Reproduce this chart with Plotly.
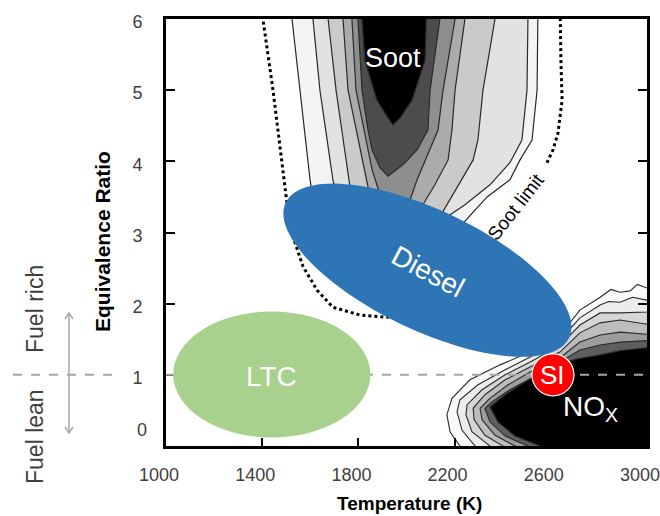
import numpy as np
import plotly.graph_objects as go

FONT = "Liberation Sans, Arial, Helvetica, sans-serif"
W, H = 660, 516
MARGIN = dict(l=166, r=13, t=19, b=70)

# ---------------- axes ----------------
X_RANGE = [1000, 3000]
Y_RANGE = [0, 6]
X_TICKS = [1000, 1400, 1800, 2200, 2600, 3000]
Y_TICKS = [1, 2, 3, 4, 5, 6]

# ---------------- soot contours (T [K], equivalence ratio), outer -> inner ----------------
soot_A_T = [1524, 1524, 1557, 1599, 1632, 1682, 1765, 1869, 1994, 2098, 2181, 2235, 2335, 2430, 2472, 2522, 2543, 2547, 2547]
soot_A_phi = [6.3, 6.0, 5.0, 3.74, 3.03, 2.61, 2.26, 2.11, 2.12, 2.33, 2.75, 3.13, 3.50, 3.74, 4.02, 4.30, 5.0, 6.0, 6.3]
soot_B_T = [1611, 1611, 1640, 1694, 1744, 1827, 1952, 2077, 2160, 2243, 2347, 2430, 2480, 2501, 2505, 2505]
soot_B_phi = [6.3, 6.0, 5.0, 3.74, 3.03, 2.61, 2.47, 2.68, 3.20, 3.39, 3.67, 3.98, 4.30, 5.0, 6.0, 6.3]
soot_C_T = [1674, 1674, 1707, 1765, 1807, 1890, 1994, 2077, 2139, 2210, 2277, 2297, 2318, 2368, 2368]
soot_C_phi = [6.3, 6.0, 5.0, 3.64, 3.18, 2.89, 2.89, 3.06, 3.22, 3.64, 4.02, 4.30, 5.0, 6.0, 6.3]
soot_D_T = [1736, 1736, 1757, 1840, 1881, 1952, 2015, 2056, 2118, 2173, 2189, 2202, 2243, 2243]
soot_D_phi = [6.3, 6.0, 5.0, 3.64, 3.32, 3.15, 3.20, 3.32, 3.67, 4.02, 4.44, 5.0, 6.0, 6.3]
soot_E_T = [1773, 1773, 1790, 1857, 1890, 1931, 1973, 2015, 2044, 2098, 2131, 2152, 2202, 2202]
soot_E_phi = [6.3, 6.0, 5.0, 3.88, 3.53, 3.34, 3.29, 3.46, 3.74, 4.16, 4.44, 5.0, 6.0, 6.3]
soot_F_T = [1798, 1798, 1815, 1840, 1857, 1890, 1923, 1985, 2044, 2089, 2098, 2139, 2139]
soot_F_phi = [6.3, 6.0, 5.0, 4.44, 4.16, 3.91, 3.79, 3.95, 4.16, 4.44, 5.0, 6.0, 6.3]
soot_G_T = [1815, 1815, 1827, 1877, 1923, 1944, 1973, 2023, 2077, 2085, 2085]
soot_G_phi = [6.3, 6.0, 5.42, 4.86, 4.61, 4.51, 4.61, 4.86, 5.42, 6.0, 6.3]

# soot limit (dotted), two visible pieces
sootlim_left_T = [1403, 1403, 1445, 1486, 1503, 1528, 1570, 1628, 1694, 1807, 1919, 2056, 2202, 2306]
sootlim_left_phi = [6.3, 6.0, 5.0, 3.88, 3.41, 2.94, 2.52, 2.19, 1.95, 1.84, 1.81, 1.88, 2.12, 2.40]
sootlim_right_T = [2584, 2609, 2630, 2647, 2642, 2638, 2638]
sootlim_right_phi = [3.98, 4.16, 4.40, 4.86, 5.42, 6.0, 6.3]

# ---------------- NOx contours, outer -> inner ----------------
nox_A_T = [3220, 3000, 2960, 2930, 2888, 2850, 2805, 2721, 2638, 2514, 2389, 2264, 2189, 2168, 2181, 2222, 2243, 3220]
nox_A_phi = [2.26, 2.22, 2.27, 2.18, 2.16, 2.20, 2.09, 1.91, 1.56, 1.32, 1.14, 0.93, 0.67, 0.44, 0.20, 0.0, -0.2, -0.2]
nox_B_T = [3220, 3000, 2940, 2888, 2840, 2805, 2721, 2638, 2514, 2410, 2297, 2222, 2210, 2231, 2285, 2306, 3220]
nox_B_phi = [2.08, 2.05, 2.09, 2.02, 2.03, 1.98, 1.80, 1.49, 1.25, 1.07, 0.86, 0.65, 0.48, 0.22, 0.0, -0.2, -0.2]
nox_C_T = [3220, 3000, 2888, 2805, 2721, 2638, 2514, 2410, 2314, 2252, 2247, 2272, 2347, 2368, 3220]
nox_C_phi = [1.91, 1.88, 1.87, 1.87, 1.70, 1.41, 1.18, 1.00, 0.79, 0.58, 0.44, 0.20, 0.0, -0.2, -0.2]
nox_D_T = [3220, 3000, 2888, 2805, 2721, 2638, 2514, 2410, 2326, 2277, 2281, 2326, 2401, 2422, 3220]
nox_D_phi = [1.74, 1.71, 1.77, 1.73, 1.59, 1.32, 1.11, 0.93, 0.72, 0.53, 0.37, 0.15, 0.0, -0.2, -0.2]
nox_E_T = [3220, 3000, 2888, 2805, 2721, 2638, 2514, 2422, 2347, 2306, 2314, 2368, 2451, 2472, 3220]
nox_E_phi = [1.60, 1.57, 1.60, 1.56, 1.46, 1.24, 1.04, 0.86, 0.67, 0.53, 0.37, 0.15, 0.0, -0.2, -0.2]
nox_F_T = [3220, 3000, 2888, 2805, 2721, 2638, 2534, 2430, 2355, 2326, 2347, 2410, 2505, 2534, 3220]
nox_F_phi = [1.49, 1.48, 1.46, 1.42, 1.35, 1.18, 0.98, 0.79, 0.62, 0.53, 0.34, 0.14, 0.0, -0.2, -0.2]
nox_G_T = [3220, 3000, 2888, 2805, 2701, 2597, 2493, 2410, 2347, 2380, 2451, 2555, 2588, 3220]
nox_G_phi = [1.38, 1.38, 1.34, 1.28, 1.22, 1.10, 0.90, 0.72, 0.55, 0.34, 0.14, 0.0, -0.2, -0.2]

# ---------------- combustion regimes ----------------
LTC_T = [1030, 1850]          # T extent
LTC_PHI = [0.12, 1.89]        # phi extent
DIESEL_CENTER = (2087, 2.47)  # T, phi
SI_CENTER = (2609, 1.0)
STOICH_PHI = 1.0

LEVEL_FILLS = ["#f4f4f4", "#e2e2e2", "#cacaca", "#ababab", "#8e8e8e", "#4c4c4c", "#000000"]
NOX_FILLS = ["#fafafa", "#ececec", "#d6d6d6", "#bdbdbd", "#9c9c9c", "#5e5e5e", "#000000"]

soot_sets = [(soot_A_T, soot_A_phi), (soot_B_T, soot_B_phi), (soot_C_T, soot_C_phi),
             (soot_D_T, soot_D_phi), (soot_E_T, soot_E_phi), (soot_F_T, soot_F_phi),
             (soot_G_T, soot_G_phi)]
nox_sets = [(nox_A_T, nox_A_phi), (nox_B_T, nox_B_phi), (nox_C_T, nox_C_phi),
            (nox_D_T, nox_D_phi), (nox_E_T, nox_E_phi), (nox_F_T, nox_F_phi),
            (nox_G_T, nox_G_phi)]

fig = go.Figure()
for (t, p), col in zip(soot_sets, LEVEL_FILLS):
    fig.add_trace(go.Scatter(x=t, y=p, mode="lines", fill="toself", fillcolor=col,
                             line=dict(color="#2a2a2a", width=1.2), hoverinfo="skip",
                             showlegend=False))
for (t, p), col in zip(nox_sets, NOX_FILLS):
    fig.add_trace(go.Scatter(x=t, y=p, mode="lines", fill="toself", fillcolor=col,
                             line=dict(color="#2a2a2a", width=1.1), hoverinfo="skip",
                             showlegend=False))
for t, p in [(sootlim_left_T, sootlim_left_phi), (sootlim_right_T, sootlim_right_phi)]:
    fig.add_trace(go.Scatter(x=t, y=p, mode="lines", line=dict(color="black", width=3, dash="dot"),
                             hoverinfo="skip", showlegend=False))

# pixel scale (for rotated ellipse / decorations)
plot_w = W - MARGIN["l"] - MARGIN["r"]
plot_h = H - MARGIN["t"] - MARGIN["b"]
px_per_T = plot_w / (X_RANGE[1] - X_RANGE[0])
px_per_phi = plot_h / (Y_RANGE[1] - Y_RANGE[0])


def rotated_ellipse_path(cT, cphi, a_px, b_px, angle_deg, n=120):
    t = np.linspace(0, 2 * np.pi, n, endpoint=False)
    th = np.radians(angle_deg)
    dx = a_px * np.cos(t) * np.cos(th) - b_px * np.sin(t) * np.sin(th)
    dy = a_px * np.cos(t) * np.sin(th) + b_px * np.sin(t) * np.cos(th)
    T = cT + dx / px_per_T
    P = cphi + dy / px_per_phi
    return "M " + " L ".join(f"{x:.2f},{y:.4f}" for x, y in zip(T, P)) + " Z"


def paper_x(px):
    return (px - MARGIN["l"]) / plot_w


def paper_y(py):
    return (H - MARGIN["b"] - py) / plot_h


def ppath(points):
    return "M " + " L ".join(f"{paper_x(a):.4f},{paper_y(b):.4f}" for a, b in points)


ARROW_X, ARROW_TOP, ARROW_BOT = 69, 313, 433
GRAY = "#a6a6a6"
shapes = [
    # stoichiometric dashed line inside plot
    dict(type="line", xref="x", yref="y", x0=X_RANGE[0], x1=X_RANGE[1], y0=STOICH_PHI, y1=STOICH_PHI,
         line=dict(color=GRAY, width=2, dash="dash"), layer="above"),
    # outside-plot continuation
    dict(type="line", xref="paper", yref="paper", x0=paper_x(13), x1=paper_x(120),
         y0=STOICH_PHI / 6, y1=STOICH_PHI / 6,
         line=dict(color=GRAY, width=2, dash="dash"), layer="above"),
    # fuel rich / lean double arrow
    dict(type="path", xref="paper", yref="paper",
         path=ppath([(ARROW_X, ARROW_TOP + 1), (ARROW_X, ARROW_BOT - 1)]),
         line=dict(color=GRAY, width=1.5), layer="above"),
    dict(type="path", xref="paper", yref="paper",
         path=ppath([(ARROW_X - 4, ARROW_TOP + 6), (ARROW_X, ARROW_TOP), (ARROW_X + 4, ARROW_TOP + 6)]),
         line=dict(color=GRAY, width=1.5), layer="above"),
    dict(type="path", xref="paper", yref="paper",
         path=ppath([(ARROW_X - 4, ARROW_BOT - 6), (ARROW_X, ARROW_BOT), (ARROW_X + 4, ARROW_BOT - 6)]),
         line=dict(color=GRAY, width=1.5), layer="above"),
    # LTC
    dict(type="circle", xref="x", yref="y", x0=LTC_T[0], x1=LTC_T[1], y0=LTC_PHI[0], y1=LTC_PHI[1],
         fillcolor="#a9d18e", line=dict(width=0), layer="above"),
    # Diesel
    dict(type="path", xref="x", yref="y",
         path=rotated_ellipse_path(DIESEL_CENTER[0], DIESEL_CENTER[1], 157, 60, -25.5),
         fillcolor="#2e75b6", line=dict(width=0), layer="above"),
    # SI
    dict(type="circle", xref="x", yref="y",
         x0=SI_CENTER[0] - 21 / px_per_T, x1=SI_CENTER[0] + 21 / px_per_T,
         y0=SI_CENTER[1] - 21 / px_per_phi, y1=SI_CENTER[1] + 21 / px_per_phi,
         fillcolor="#ff0000", line=dict(color="white", width=1.2), layer="above"),
]

W_TXT = dict(family=FONT, color="white")
annotations = [
    dict(x=1944, y=5.45, text="Soot", font=dict(W_TXT, size=27)),
    dict(x=2455, y=3.37, text="Soot limit", textangle=-52, font=dict(family=FONT, size=19, color="black")),
    dict(x=2089, y=2.45, text="Diesel", textangle=28, font=dict(W_TXT, size=28)),
    dict(x=1437, y=0.98, text="LTC", font=dict(W_TXT, size=28)),
    dict(x=2609, y=1.0, text="SI", font=dict(W_TXT, size=26)),
    dict(x=2763, y=0.53, text="NO<sub>X</sub>", font=dict(W_TXT, size=28)),
    dict(xref="paper", yref="y", x=paper_x(142), y=0, yshift=16, text="0",
         font=dict(family=FONT, size=18, color="#404040")),
    dict(xref="paper", yref="paper", x=paper_x(35), y=paper_y(309), text="Fuel rich", textangle=-90,
         font=dict(family=FONT, size=23, color="#404040")),
    dict(xref="paper", yref="paper", x=paper_x(35), y=paper_y(437), text="Fuel lean", textangle=-90,
         font=dict(family=FONT, size=23, color="#404040")),
    dict(xref="paper", yref="paper", x=paper_x(409), y=paper_y(504), text="<b>Temperature (K)</b>",
         font=dict(family=FONT, size=19, color="black")),
    dict(xref="paper", yref="paper", x=paper_x(102), y=paper_y(242), text="<b>Equivalence Ratio</b>",
         textangle=-90, font=dict(family=FONT, size=21, color="black")),
]
for a in annotations:
    a.setdefault("showarrow", False)
    a.setdefault("xref", "x")
    a.setdefault("yref", "y")
    a.setdefault("xanchor", "center")
    a.setdefault("yanchor", "middle")

fig.update_layout(
    template="none",
    width=W, height=H, margin=MARGIN, paper_bgcolor="white", plot_bgcolor="white",
    shapes=shapes, annotations=annotations, showlegend=False,
    font=dict(family=FONT),
    xaxis=dict(range=X_RANGE, tickvals=X_TICKS, ticks="inside", ticklen=8, tickwidth=1.5, tickcolor="black",
               showline=True, linecolor="black", linewidth=3, mirror=True, showgrid=False, zeroline=False,
               tickfont=dict(family=FONT, size=18, color="#404040"), ticklabelstandoff=10,
               ticklabelshift=-7, ticklabeloverflow="allow", automargin=False),
    yaxis=dict(range=Y_RANGE, tickvals=Y_TICKS, ticks="inside", ticklen=9, tickwidth=1.5, tickcolor="black",
               showline=True, linecolor="black", linewidth=3, mirror="allticks", showgrid=False, zeroline=False,
               tickfont=dict(family=FONT, size=18, color="#404040"), ticklabelstandoff=17,
               ticklabelshift=3, ticklabeloverflow="allow", automargin=False),
)

fig.write_html("out.html")
